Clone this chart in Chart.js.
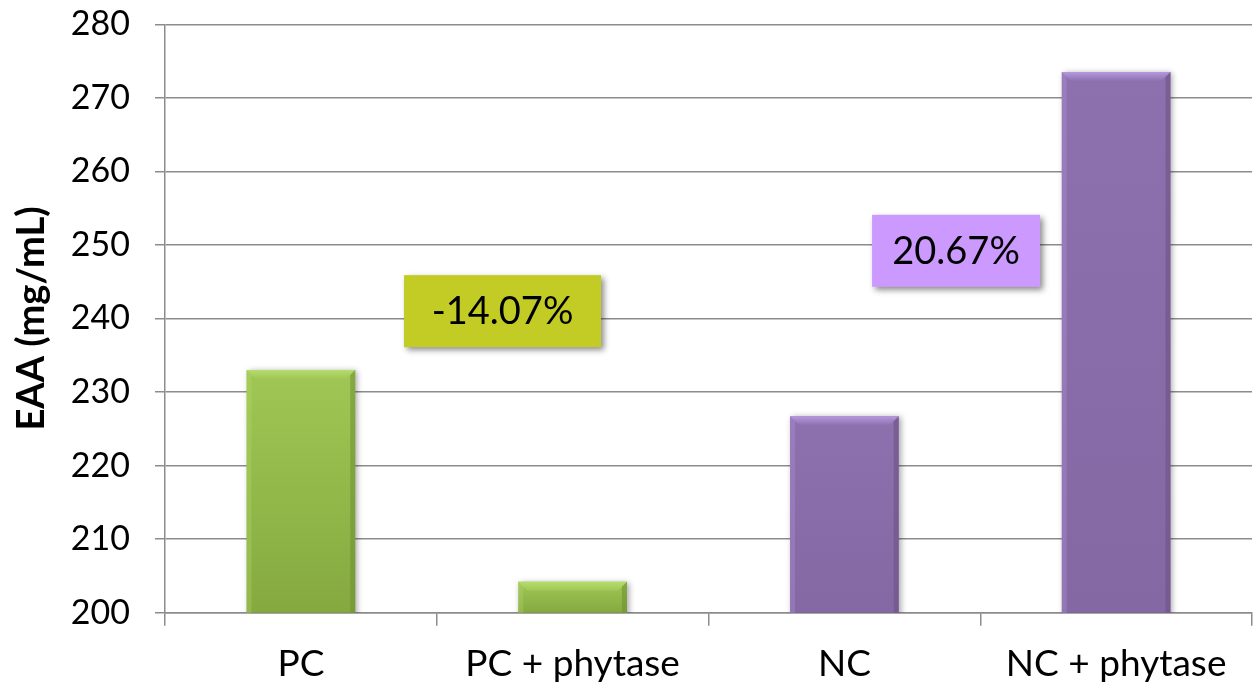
<!DOCTYPE html>
<html>
<head>
<meta charset="utf-8">
<script src="https://cdn.jsdelivr.net/npm/chart.js@4.4.1/dist/chart.umd.min.js"></script>
<style>
  html, body { margin: 0; padding: 0; background: #ffffff; }
  #wrap { width: 1257px; height: 689px; }
</style>
</head>
<body>
<div id="wrap"><canvas id="eaaChart" width="1257" height="689"></canvas></div>
<script>
// Essential amino acid concentration per diet
const categories = ['PC', 'PC + phytase', 'NC', 'NC + phytase'];
const eaaValues = [233.0, 204.2, 226.7, 273.5];
const yTickValues = [200, 210, 220, 230, 240, 250, 260, 270, 280];
const changeLabels = ['-14.07%', '20.67%'];

// Bar palettes: [top, bottom, bevel light, edge dark]
const greenShade = ['#a0c755', '#85a93f', '#b6dc6c', '#6f8f32'];
const purpleShade = ['#8d71ae', '#8468a4', '#b698de', '#6a5184'];
const barShades = [greenShade, greenShade, purpleShade, purpleShade];

const FONT = "Lato, 'Open Sans', sans-serif";
const gridColor = '#8c8c8c';

function barGradient(context) {
  const chart = context.chart;
  const area = chart.chartArea;
  const shade = barShades[context.dataIndex];
  if (!area) return shade[0];
  const y = chart.scales.y;
  const top = y.getPixelForValue(eaaValues[context.dataIndex]);
  const bottom = y.getPixelForValue(y.min);
  const g = chart.ctx.createLinearGradient(0, top, 0, bottom);
  g.addColorStop(0, shade[0]);
  g.addColorStop(1, shade[1]);
  return g;
}

// Soft drop shadow under the bars
const barShadow = {
  id: 'barShadow',
  beforeDatasetsDraw(chart) {
    const ctx = chart.ctx;
    ctx.save();
    ctx.shadowColor = 'rgba(0,0,0,0.35)';
    ctx.shadowBlur = 6;
    ctx.shadowOffsetX = 2;
    ctx.shadowOffsetY = 1;
  },
  afterDatasetsDraw(chart) {
    chart.ctx.restore();
  }
};

// Bevelled top and side edges on each bar
const barBevel = {
  id: 'barBevel',
  afterDatasetsDraw(chart) {
    const ctx = chart.ctx;
    const area = chart.chartArea;
    const meta = chart.getDatasetMeta(0);
    const b = 9;
    meta.data.forEach((bar, i) => {
      const p = bar.getProps(['x', 'y', 'base', 'width'], true);
      const l = p.x - p.width / 2, r = p.x + p.width / 2;
      const t = p.y, bt = Math.min(p.base, area.bottom);
      const shade = barShades[i];
      const bb = Math.min(b, (bt - t) / 2);
      ctx.save();
      // top face
      const tg = ctx.createLinearGradient(0, t, 0, t + bb);
      tg.addColorStop(0, shade[2]);
      tg.addColorStop(1, shade[0]);
      ctx.fillStyle = tg;
      ctx.beginPath();
      ctx.moveTo(l, t); ctx.lineTo(r, t); ctx.lineTo(r - bb, t + bb); ctx.lineTo(l + bb, t + bb);
      ctx.closePath(); ctx.fill();
      // right edge
      ctx.globalAlpha = 0.55;
      ctx.fillStyle = shade[3];
      ctx.beginPath();
      ctx.moveTo(r, t); ctx.lineTo(r, bt); ctx.lineTo(r - 5, bt); ctx.lineTo(r - 5, t + 5);
      ctx.closePath(); ctx.fill();
      // left edge
      ctx.globalAlpha = 0.3;
      ctx.fillStyle = shade[2];
      ctx.beginPath();
      ctx.moveTo(l, t); ctx.lineTo(l + 5, t + 5); ctx.lineTo(l + 5, bt); ctx.lineTo(l, bt);
      ctx.closePath(); ctx.fill();
      ctx.restore();
    });
  }
};

// Percentage change callouts
const changeBoxes = {
  id: 'changeBoxes',
  afterDraw(chart, args, opts) {
    const ctx = chart.ctx;
    const xs = chart.scales.x, ys = chart.scales.y;
    opts.boxes.forEach((box, i) => {
      const cx = xs.getPixelForValue(box.at);
      const cy = ys.getPixelForValue(box.level);
      const x0 = cx - box.width / 2, y0 = cy - box.height / 2;
      ctx.save();
      ctx.shadowColor = 'rgba(0,0,0,0.45)';
      ctx.shadowBlur = 6;
      ctx.shadowOffsetX = 3;
      ctx.shadowOffsetY = 3;
      ctx.fillStyle = box.color;
      ctx.fillRect(x0, y0, box.width, box.height);
      ctx.restore();
      ctx.save();
      ctx.fillStyle = '#000000';
      ctx.font = `38px ${FONT}`;
      ctx.textAlign = 'center';
      ctx.textBaseline = 'middle';
      ctx.fillText(changeLabels[i], cx, cy + 1);
      ctx.restore();
    });
  }
};

new Chart(document.getElementById('eaaChart'), {
  type: 'bar',
  data: {
    labels: categories,
    datasets: [{
      label: 'EAA',
      data: eaaValues,
      backgroundColor: barGradient,
      borderWidth: 0,
      categoryPercentage: 1,
      barPercentage: 0.4
    }]
  },
  options: {
    responsive: false,
    animation: false,
    layout: { padding: { top: 24.3, right: 5, left: 0, bottom: 0 } },
    plugins: {
      legend: { display: false },
      tooltip: { enabled: false },
      changeBoxes: {
        boxes: [
          { at: 0.742, level: 241.0, width: 197, height: 72, color: '#c2cc24' },
          { at: 2.411, level: 249.2, width: 168, height: 72, color: '#cc99ff' }
        ]
      }
    },
    scales: {
      x: {
        offset: true,
        grid: {
          offset: true,
          drawOnChartArea: false,
          drawTicks: true,
          tickLength: 13,
          color: gridColor,
          lineWidth: 1.5
        },
        border: { color: gridColor, width: 1.5 },
        ticks: {
          color: '#000000',
          font: { family: FONT, size: 37 },
          padding: 16,
          maxRotation: 0,
          autoSkip: false
        },
        afterFit(scale) {
          scale.height = 76.3;
          scale.paddingLeft = 0;
          scale.paddingRight = 0;
        }
      },
      y: {
        min: 200,
        max: 280,
        afterBuildTicks(scale) { scale.ticks = yTickValues.map(v => ({ value: v })); },
        grid: {
          color: gridColor,
          lineWidth: 1.5,
          tickLength: 10
        },
        border: { color: gridColor, width: 1.5 },
        ticks: {
          color: '#000000',
          font: { family: FONT, size: 34 },
          padding: 25
        },
        title: {
          display: true,
          text: 'EAA (mg/mL)',
          color: '#000000',
          font: { family: FONT, size: 38, weight: 'bold' },
          padding: { top: 9, bottom: 0 }
        },
        afterFit(scale) {
          scale.width = 165;
          scale.paddingTop = 0;
          scale.paddingBottom = 0;
        }
      }
    }
  },
  plugins: [barShadow, barBevel, changeBoxes]
});
</script>
</body>
</html>
